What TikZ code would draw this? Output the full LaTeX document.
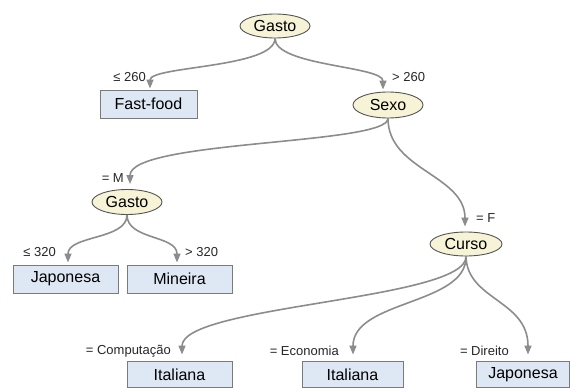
\documentclass[tikz,border=0pt]{standalone}
\usepackage{fontspec}
\setmainfont{Liberation Sans}
\usetikzlibrary{arrows.meta,shapes.geometric}
\definecolor{ellfill}{HTML}{F6F3D6}
\definecolor{ellline}{HTML}{555555}
\definecolor{boxfill}{HTML}{DDE8F4}
\definecolor{boxline}{HTML}{7A7A7A}
\definecolor{arcgray}{HTML}{8C8C8C}
\begin{document}
\begin{tikzpicture}[x=1pt,y=-1pt,
  test/.style={ellipse,draw=ellline,line width=0.9pt,fill=ellfill,inner sep=0pt,
    minimum width=70pt,minimum height=24pt,font=\fontsize{16}{18}\selectfont},
  leaf/.style={rectangle,draw=boxline,line width=0.9pt,fill=boxfill,inner sep=0pt,
    minimum width=105pt,minimum height=28pt,font=\fontsize{16}{18}\selectfont},
  edgelab/.style={inner sep=0pt,font=\fontsize{13}{15}\selectfont,text=black!85},
  arc/.style={draw=arcgray,line width=1.6pt,
    -{Triangle[length=9pt,width=7pt]},shorten >=1pt}
]
\useasboundingbox (0,0) rectangle (571,388);
% nodes
\node[test] (g1) at (275,26) {Gasto};
\node[leaf,minimum width=97pt] (ff) at (148.5,104) {Fast-food};
\node[test,minimum height=26pt] (sexo) at (388,105) {Sexo};
\node[test,minimum height=25pt] (g2) at (127,202) {Gasto};
\node[test,minimum width=72pt] (curso) at (466,244) {Curso};
\node[leaf] (jl) at (65.5,279) {Japonesa};
\node[leaf] (mi) at (179.5,279) {Mineira};
\node[leaf,minimum height=26pt] (it1) at (179.5,374.5) {Italiana};
\node[leaf,minimum width=101pt,minimum height=26pt] (it2) at (352.5,374.5) {Italiana};
\node[leaf,minimum width=93pt,minimum height=26pt] (jb) at (523,374.5) {Japonesa};
% edges
\draw[arc] (g1.south) .. controls (275,68) and (150,66) .. ([xshift=1.5pt]ff.north);
\draw[arc,shorten >=2pt] (g1.south) .. controls (275,66) and (383,66) .. ([xshift=-5pt]sexo.north);
\draw[arc,shorten >=5pt] (sexo.south) .. controls (388,145) and (130,140) .. ([xshift=3pt]g2.north);
\draw[arc,shorten >=5pt] (sexo.south) .. controls (388,170) and (465,175) .. ([xshift=-1pt]curso.north);
\draw[arc,shorten >=2pt] (g2.south) .. controls (127,240) and (68,235) .. ([xshift=2.5pt]jl.north);
\draw[arc,shorten >=2pt] (g2.south) .. controls (127,240) and (177,235) .. ([xshift=-2.5pt]mi.north);
\draw[arc,shorten >=6.5pt] (curso.south) .. controls (467,300) and (182,305) .. ([xshift=2.5pt]it1.north);
\draw[arc,shorten >=6.5pt] (curso.south) .. controls (467,305) and (353,300) .. ([xshift=0.5pt]it2.north);
\draw[arc,shorten >=6.5pt] (curso.south) .. controls (467,300) and (528,300) .. ([xshift=5pt]jb.north);
% edge labels
\node[edgelab,anchor=east] (l1) at (146,77) {≤ 260};
\node[edgelab,anchor=west] (l2) at (392,77) {> 260};
\node[edgelab,anchor=east] (l3) at (124,178) {= M};
\node[edgelab,anchor=west] (l4) at (476,218) {= F};
\node[edgelab,anchor=east] (l5) at (56,252) {≤ 320};
\node[edgelab,anchor=west] (l6) at (185,252) {> 320};
\node[edgelab,anchor=east] (l7) at (171,351) {= Computação};
\node[edgelab,anchor=east] (l8) at (339,351) {= Economia};
\node[edgelab,anchor=east] (l9) at (509,351) {= Direito};
\end{tikzpicture}
\end{document}
